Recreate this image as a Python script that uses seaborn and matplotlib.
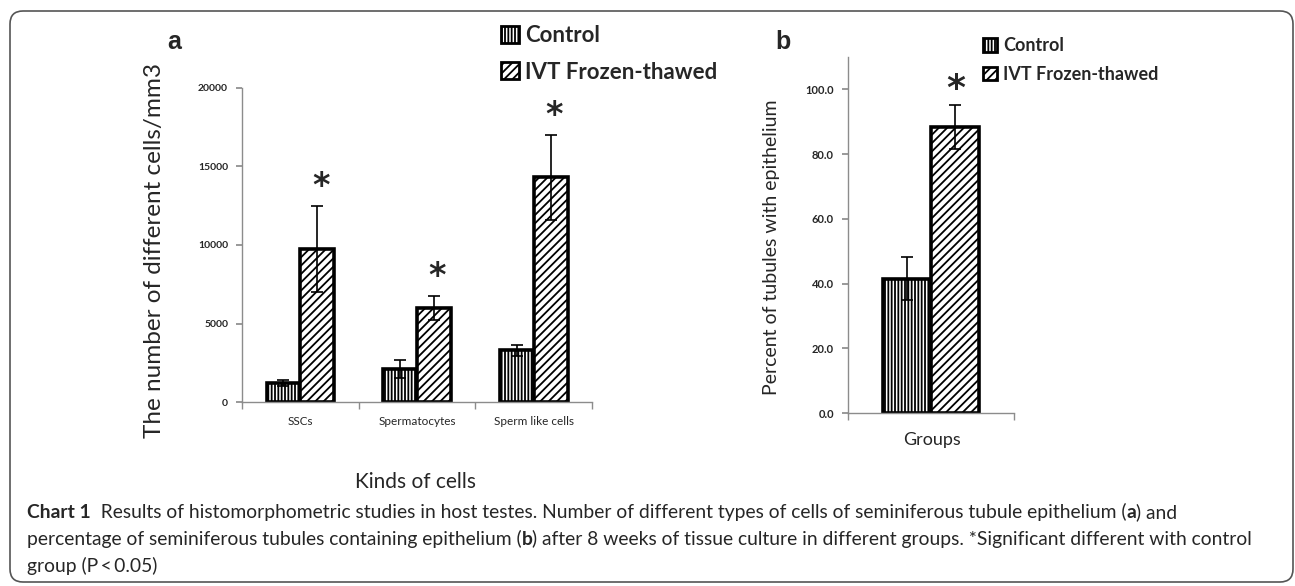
import pandas as pd
import seaborn as sns
import matplotlib.pyplot as plt
from matplotlib.patches import Patch, FancyBboxPatch

# data
cells = ['SSCs', 'Spermatocytes', 'Sperm like cells']
groups = ['Control', 'IVT Frozen-thawed']
control_cells = [1200, 2100, 3300]
control_cells_err = [200, 600, 350]
ivt_cells = [9750, 6000, 14300]
ivt_cells_err = [2750, 750, 2700]

tubules = [41.5, 88.3]
tubules_err = [6.7, 6.8]

W, H = 1295, 586
def px(x, y):
    return x / W, 1 - y / H

sns.set_theme(style='ticks')
plt.rcParams['font.family'] = ['Lato', 'DejaVu Sans']
plt.rcParams['hatch.linewidth'] = 1.3
hatches = ['|||||', '////']
axis_grey = '#8c8c8c'

fig = plt.figure(figsize=(12.95, 5.86), dpi=100)
ax_a = fig.add_axes([242 / W, 1 - 402 / H, 350 / W, 314 / H])
ax_b = fig.add_axes([848 / W, 1 - 413 / H, 166 / W, 356 / H])

# panel a
df_a = pd.DataFrame({'cell': cells * 2,
                     'group': [groups[0]] * 3 + [groups[1]] * 3,
                     'value': control_cells + ivt_cells})
sns.barplot(data=df_a, x='cell', y='value', hue='group', order=cells, hue_order=groups,
            width=0.58, errorbar=None, palette=['white', 'white'], edgecolor='black',
            linewidth=2.6, legend=False, ax=ax_a)
for cont, h, errs in zip(ax_a.containers, hatches, [control_cells_err, ivt_cells_err]):
    xs = [b.get_x() + b.get_width() / 2 for b in cont]
    ys = [b.get_height() for b in cont]
    for b in cont:
        b.set_hatch(h)
    ax_a.errorbar(xs, ys, yerr=errs, fmt='none', ecolor='black', elinewidth=1.2,
                  capsize=4, capthick=1.2, zorder=4)
# significance stars above IVT bars
for b, e in zip(ax_a.containers[1], ivt_cells_err):
    ax_a.text(b.get_x() + b.get_width() / 2 + 0.03, b.get_height() + e + 1250, '*',
              fontsize=24, fontweight='bold', ha='center', va='center', family='DejaVu Sans')

ax_a.set_xlim(-0.5, 2.5)
ax_a.set_ylim(0, 20000)
ax_a.set_yticks([0, 5000, 10000, 15000, 20000])
ax_a.set_xticks([-0.5, 0.5, 1.5, 2.5], minor=True)
ax_a.set_xlabel('')
ax_a.set_ylabel('')
ax_a.tick_params(axis='x', which='major', length=0, labelsize=8.5, pad=10)
ax_a.tick_params(axis='x', which='minor', length=5, color=axis_grey)
ax_a.tick_params(axis='y', length=4, color=axis_grey, labelsize=7.5, pad=6)
for lab in ax_a.get_yticklabels():
    lab.set_fontweight('bold')

# panel b
df_b = pd.DataFrame({'x': ['Groups'] * 2, 'group': groups, 'value': tubules})
sns.barplot(data=df_b, x='x', y='value', hue='group', hue_order=groups, width=0.584,
            errorbar=None, palette=['white', 'white'], edgecolor='black', linewidth=2.6,
            legend=False, ax=ax_b)
for cont, h, e in zip(ax_b.containers, hatches, tubules_err):
    b = cont[0]
    b.set_hatch(h)
    ax_b.errorbar(b.get_x() + b.get_width() / 2, b.get_height(), yerr=e, fmt='none',
                  ecolor='black', elinewidth=1.2, capsize=4, capthick=1.2, zorder=4)
b = ax_b.containers[1][0]
ax_b.text(b.get_x() + b.get_width() / 2, b.get_height() + tubules_err[1] + 5, '*',
          fontsize=26, fontweight='bold', ha='center', va='center', family='DejaVu Sans')

ax_b.set_xlim(-0.5, 0.5)
ax_b.set_ylim(0, 110)
ax_b.set_yticks([0, 20, 40, 60, 80, 100])
ax_b.set_yticklabels([f'{v:.1f}' for v in [0, 20, 40, 60, 80, 100]])
ax_b.set_xticks([])
ax_b.set_xticks([-0.5, 0.5], minor=True)
ax_b.set_xlabel('')
ax_b.set_ylabel('')
ax_b.tick_params(axis='x', which='minor', length=5, color=axis_grey)
ax_b.tick_params(axis='y', length=4, color=axis_grey, labelsize=8, pad=6)
for lab in ax_b.get_yticklabels():
    lab.set_fontweight('bold')

for ax in (ax_a, ax_b):
    sns.despine(ax=ax)
    for s in ('left', 'bottom'):
        ax.spines[s].set_color(axis_grey)
        ax.spines[s].set_linewidth(1)

# axis titles
fig.text(*px(155, 251), 'The number of different cells/mm3', rotation=90, fontsize=17.5,
         ha='center', va='center')
fig.text(*px(415, 482), 'Kinds of cells', fontsize=15, ha='center', va='center')
fig.text(*px(772, 247), 'Percent of tubules with epithelium', rotation=90, fontsize=14,
         ha='center', va='center')
fig.text(*px(932, 440), 'Groups', fontsize=13, ha='center', va='center')
fig.text(*px(174, 42), 'a', fontsize=18, fontweight='bold', ha='center', va='center',
         family='Liberation Sans')
fig.text(*px(783, 42), 'b', fontsize=18, fontweight='bold', ha='center', va='center',
         family='Liberation Sans')

# legends
handles = [Patch(facecolor='white', edgecolor='black', hatch=h, linewidth=2) for h in hatches]
fig.legend(handles, groups, loc='upper left', bbox_to_anchor=px(501, 25), frameon=False,
           prop=dict(weight='bold', size=16), handlelength=0.8, handleheight=0.8,
           handletextpad=0.3, labelspacing=0.7, borderpad=0, borderaxespad=0)
fig.legend(handles, groups, loc='upper left', bbox_to_anchor=px(983, 37), frameon=False,
           prop=dict(weight='bold', size=13), handlelength=0.8, handleheight=0.8,
           handletextpad=0.3, labelspacing=0.65, borderpad=0, borderaxespad=0)

# caption
caption = [
    [('Chart 1', 'bold'),
     ('  Results of histomorphometric studies in host testes. Number of different types of cells '
      'of seminiferous tubule epithelium (', 'normal'), ('a', 'bold'), (') and', 'normal')],
    [('percentage of seminiferous tubules containing epithelium (', 'normal'), ('b', 'bold'),
     (') after 8 weeks of tissue culture in different groups. *Significant different with control',
      'normal')],
    [('group (P\u2009<\u20090.05)', 'normal')],
]
r = fig.canvas.get_renderer()
for line, y in zip(caption, [518, 545, 572]):
    x = 27
    for s, w in line:
        t = fig.text(*px(x, y), s, fontsize=13.9, fontweight=w, ha='left', va='baseline')
        x += t.get_window_extent(r).width

fig.add_artist(FancyBboxPatch((0.10, 0.04), 12.83, 5.71,
                              boxstyle='round,pad=0,rounding_size=0.13',
                              transform=fig.dpi_scale_trans, fill=False,
                              edgecolor='#555555', linewidth=1.2))

fig.savefig('out.png', dpi=100)
